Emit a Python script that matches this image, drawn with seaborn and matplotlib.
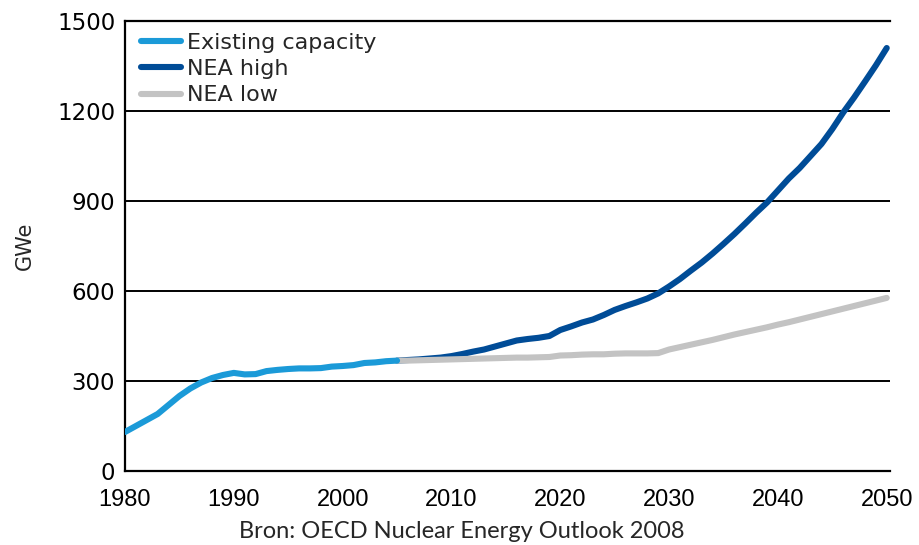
import matplotlib
matplotlib.use('Agg')
import matplotlib.pyplot as plt
import seaborn as sns

# Existing capacity 1980-2005
years_existing = list(range(1980, 2006))
existing = [130, 150, 170, 190, 220, 250, 275, 295, 310, 320,
            327, 322, 323, 333, 337, 340, 342, 342, 343, 348,
            350, 353, 360, 362, 366, 368]

# NEA scenarios 2005-2050
years_nea = list(range(2005, 2051))
nea_high = [368, 370, 372, 375, 378, 383, 390, 398, 405, 415,
            425, 435, 440, 444, 450, 470, 482, 495, 505, 520,
            537, 550, 562, 575, 592, 615, 640, 668, 695, 725,
            757, 790, 825, 861, 895, 935, 975, 1010, 1050, 1090,
            1140, 1195, 1245, 1298, 1352, 1410]
nea_low = [368, 368, 369, 370, 371, 372, 373, 374, 375, 376,
           377, 378, 378, 379, 380, 385, 386, 388, 389, 389,
           391, 392, 392, 392, 393, 405, 413, 421, 429, 437,
           446, 455, 463, 471, 479, 488, 496, 505, 514, 523,
           532, 541, 550, 559, 568, 577]

xticks = [1980, 1990, 2000, 2010, 2020, 2030, 2040, 2050]
yticks = [0, 300, 600, 900, 1200, 1500]

sns.set_style('white')

fig = plt.figure(figsize=(9.2, 5.45), dpi=100)
ax = fig.add_axes([125 / 920, 1 - 471 / 545, (890 - 125) / 920, (471 - 21) / 545])

sns.lineplot(x=years_nea, y=nea_high, color='#004c97', linewidth=4.4,
             label='NEA high', ax=ax, zorder=3)
sns.lineplot(x=years_nea, y=nea_low, color='#c3c3c3', linewidth=4.4,
             label='NEA low', ax=ax, zorder=4)
sns.lineplot(x=years_existing, y=existing, color='#1b9ad8', linewidth=4.4,
             label='Existing capacity', ax=ax, zorder=5)

ax.set_xlim(1980, 2050.3)
ax.set_ylim(0, 1500)
ax.set_xticks(xticks)
ax.set_yticks(yticks)

for y in yticks[1:-1]:
    ax.axhline(y, color='black', linewidth=1.4, zorder=1)

for s in ['left', 'bottom', 'top']:
    ax.spines[s].set_color('black')
    ax.spines[s].set_linewidth(1.6)
ax.spines['right'].set_visible(False)

ax.tick_params(axis='x', direction='in', length=8, width=1.4, pad=13,
               labelsize=17, colors='black')
ax.tick_params(axis='y', direction='out', length=4, width=1.4, pad=3,
               labelsize=16.5, colors='black')
for lbl in ax.get_xticklabels():
    lbl.set_family('Liberation Sans')
for lbl in ax.get_yticklabels():
    lbl.set_family('DejaVu Sans')

ax.set_xlabel('')
ax.set_ylabel('GWe', fontsize=15, labelpad=16, family='DejaVu Sans')

handles, labels = ax.get_legend_handles_labels()
order = [labels.index('Existing capacity'), labels.index('NEA high'), labels.index('NEA low')]
ax.legend([handles[i] for i in order], [labels[i] for i in order],
          loc='upper left', bbox_to_anchor=(-0.005, 1.018), frameon=False,
          handlelength=1.8, handletextpad=0.25, labelspacing=0.28,
          borderaxespad=0.5, prop={'family': 'DejaVu Sans', 'size': 16})

fig.text(0.502, 0.025, 'Bron: OECD Nuclear Energy Outlook 2008',
         ha='center', va='center', fontsize=17, family='Lato')

fig.savefig('out.png', dpi=100)
